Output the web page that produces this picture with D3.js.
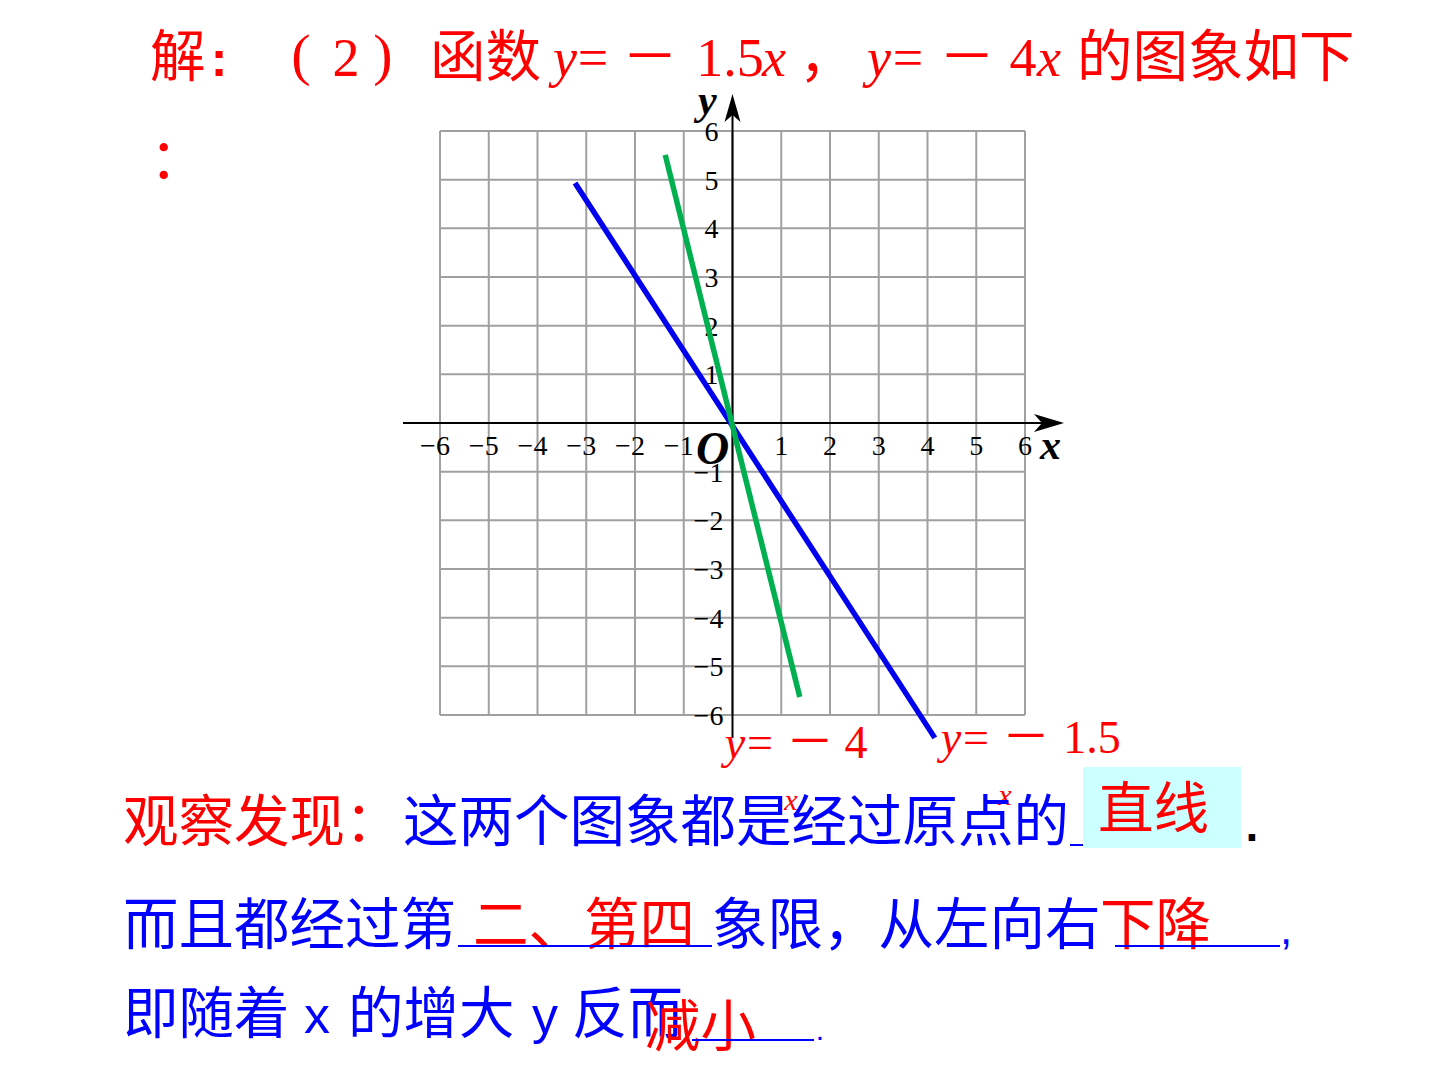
<!DOCTYPE html>
<html><head><meta charset="utf-8">
<script src="https://cdn.jsdelivr.net/npm/d3@7"></script>
<style>
html,body{margin:0;padding:0;background:#fff;}
svg{display:block;}
</style></head>
<body>
<svg id="c" width="1440" height="1080"></svg>
<script>
// ---- data ----
const xTicks = [-6,-5,-4,-3,-2,-1,1,2,3,4,5,6];
const yTicks = [-6,-5,-4,-3,-2,-1,1,2,3,4,5,6];
const gridValues = [-6,-5,-4,-3,-2,-1,0,1,2,3,4,5,6];
const seriesNames = ["y=－1.5x", "y=－4x"];
const blueX = [-3.23, 4.15];
const blueY = [4.93, -6.47];
const greenX = [-1.38, 1.38];
const greenY = [5.51, -5.63];

const CJK = "'Noto Sans CJK SC', sans-serif";
const SERIF = "'Liberation Serif', 'DejaVu Serif', serif";
const SANS = "'Liberation Sans', Arial, sans-serif";
const RED = "#ff0000", BLUE = "#0000ff";

const svg = d3.select("#c");
svg.append("rect").attr("width",1440).attr("height",1080).attr("fill","#fff");

const x = d3.scaleLinear().domain([-6,6]).range([440,1025]);
const y = d3.scaleLinear().domain([-6,6]).range([715,131]);

// grid
const g = svg.append("g");
g.selectAll("line.v").data(gridValues).join("line")
  .attr("x1",d=>x(d)).attr("x2",d=>x(d)).attr("y1",y(6)).attr("y2",y(-6))
  .attr("stroke","#a0a0a0").attr("stroke-width",2);
g.selectAll("line.h").data(gridValues).join("line").attr("class","h")
  .attr("y1",d=>y(d)).attr("y2",d=>y(d)).attr("x1",x(-6)).attr("x2",x(6))
  .attr("stroke","#a0a0a0").attr("stroke-width",2);

// axes
const x0 = x(0), y0 = y(0);
svg.append("line").attr("x1",403).attr("x2",1058).attr("y1",y0).attr("y2",y0).attr("stroke","#000").attr("stroke-width",2);
svg.append("line").attr("x1",x0).attr("x2",x0).attr("y1",738).attr("y2",99).attr("stroke","#000").attr("stroke-width",2);
svg.append("path").attr("d",`M1064,${y0} L1034,${y0-9} L1042,${y0} L1034,${y0+9} Z`).attr("fill","#000");
svg.append("path").attr("d",`M${x0},94 L${x0-8},122 L${x0},115 L${x0+8},122 Z`).attr("fill","#000");

// tick labels
svg.selectAll("text.xt").data(xTicks).join("text").attr("class","xt")
  .attr("x",d=>x(d) - (d<0?5:0)).attr("y",y0+32)
  .attr("text-anchor","middle").attr("font-family",SERIF).attr("font-size",28).attr("fill","#000")
  .text(d=>d<0?"−"+(-d):d);
svg.selectAll("text.yt").data(yTicks).join("text").attr("class","yt")
  .attr("x",d=>x0-(d<0?24:21)).attr("y",d=>y(d)+10)
  .attr("text-anchor","middle").attr("font-family",SERIF).attr("font-size",28).attr("fill","#000")
  .text(d=>d<0?"−"+(-d):d);
svg.append("text").attr("x",x0-20).attr("y",y0+41).attr("text-anchor","middle")
  .attr("font-family",SERIF).attr("font-size",46).attr("font-style","italic").attr("font-weight","bold").text("O");
svg.append("text").attr("x",1040).attr("y",y0+36)
  .attr("font-family",SERIF).attr("font-size",42).attr("font-style","italic").attr("font-weight","bold").text("x");
svg.append("text").attr("x",698).attr("y",114)
  .attr("font-family",SERIF).attr("font-size",42).attr("font-style","italic").attr("font-weight","bold").text("y");

// function lines
const line = d3.line().x(d=>x(d[0])).y(d=>y(d[1]));
svg.append("path").datum(d3.zip(blueX,blueY)).attr("d",line)
  .attr("stroke","#0000ee").attr("stroke-width",5.5).attr("fill","none");
svg.append("path").datum(d3.zip(greenX,greenY)).attr("d",line)
  .attr("stroke","#00b050").attr("stroke-width",5.5).attr("fill","none");

// text helpers
function put(cx, base, t, o={}){
  svg.append("text").attr("x",cx).attr("y",base)
    .attr("text-anchor",o.a||"middle")
    .attr("font-family",o.f||CJK).attr("font-size",o.s||55.5)
    .attr("font-style",o.i?"italic":"normal").attr("font-weight",o.b?"bold":"normal")
    .attr("fill",o.c||RED).text(t);
}

// title
const TB = 76;
put(150, TB, "解", {a:"start"});
put(219, TB, ":", {f:SANS, b:true, s:50});
put(301, TB-2, "(", {f:SERIF, s:58});
put(346, TB, "2", {f:SERIF, s:54});
put(383, TB-2, ")", {f:SERIF, s:58});
put(430, TB, "函数", {a:"start"});
put(565, TB, "y", {f:SERIF, i:true, s:54});
put(593, TB, "=", {f:SERIF, s:54});
put(650, TB, "－", {s:56});
put(730, TB, "1.5", {f:SERIF, s:54});
put(774, TB, "x", {f:SERIF, i:true, s:54});
put(799, TB, "，", {a:"start"});
put(879, TB, "y", {f:SERIF, i:true, s:54});
put(908, TB, "=", {f:SERIF, s:54});
put(967, TB, "－", {s:56});
put(1023, TB, "4", {f:SERIF, s:54});
put(1049, TB, "x", {f:SERIF, i:true, s:54});
put(1077, TB, "的图象如下", {a:"start"});
put(150, 178, "：", {a:"start", s:55});

// line labels (from seriesNames)
const lab4 = seriesNames[1], lab15 = seriesNames[0];
put(735, 758, "y", {f:SERIF, i:true, s:46});
put(760, 758, "=", {f:SERIF, s:46});
put(810, 758, "－", {s:48});
put(856, 758, lab4.slice(3,4), {f:SERIF, s:46});
put(791, 810, "x", {f:SERIF, i:true, s:30});
put(951, 753, "y", {f:SERIF, i:true, s:46});
put(976, 753, "=", {f:SERIF, s:46});
put(1026, 753, "－", {s:48});
put(1092, 753, lab15.slice(3,6), {f:SERIF, s:46});
put(1005, 805, "x", {f:SERIF, i:true, s:30});

// observation text
svg.append("rect").attr("x",1083).attr("y",767).attr("width",158).attr("height",81).attr("fill","#ccffff");
put(123, 841, "观察发现：", {a:"start", c:RED});
put(403, 841, "这两个图象都是经过原点的", {a:"start", c:BLUE});
put(1252, 841, ".", {f:SANS, b:true, s:46, c:"#000"});
svg.append("line").attr("x1",1070).attr("x2",1083).attr("y1",845).attr("y2",845).attr("stroke",BLUE).attr("stroke-width",2);
put(1098, 828, "直线", {a:"start", c:RED});

put(123, 944, "而且都经过第", {a:"start", c:BLUE});
put(473, 944, "二、第四", {a:"start", c:RED});
put(712, 944, "象限，从左向右", {a:"start", c:BLUE});
put(1100, 944, "下降", {a:"start", c:RED});
put(1286, 944, ",", {f:SANS, s:44, c:BLUE});
svg.append("line").attr("x1",458).attr("x2",712).attr("y1",946).attr("y2",946).attr("stroke",BLUE).attr("stroke-width",2);
svg.append("line").attr("x1",1115).attr("x2",1280).attr("y1",946).attr("y2",946).attr("stroke",BLUE).attr("stroke-width",2);

put(123, 1033, "即随着", {a:"start", c:BLUE});
put(317, 1033, "x", {f:SANS, s:52, c:BLUE});
put(348, 1033, "的增大", {a:"start", c:BLUE});
put(545, 1033, "y", {f:SANS, s:52, c:BLUE});
put(572, 1033, "反而", {a:"start", c:BLUE});
put(645, 1046, "减小", {a:"start", c:RED});
svg.append("line").attr("x1",692).attr("x2",814).attr("y1",1040).attr("y2",1040).attr("stroke",BLUE).attr("stroke-width",2);
put(820, 1040, ".", {f:SANS, s:30, c:BLUE});
</script>
</body></html>
